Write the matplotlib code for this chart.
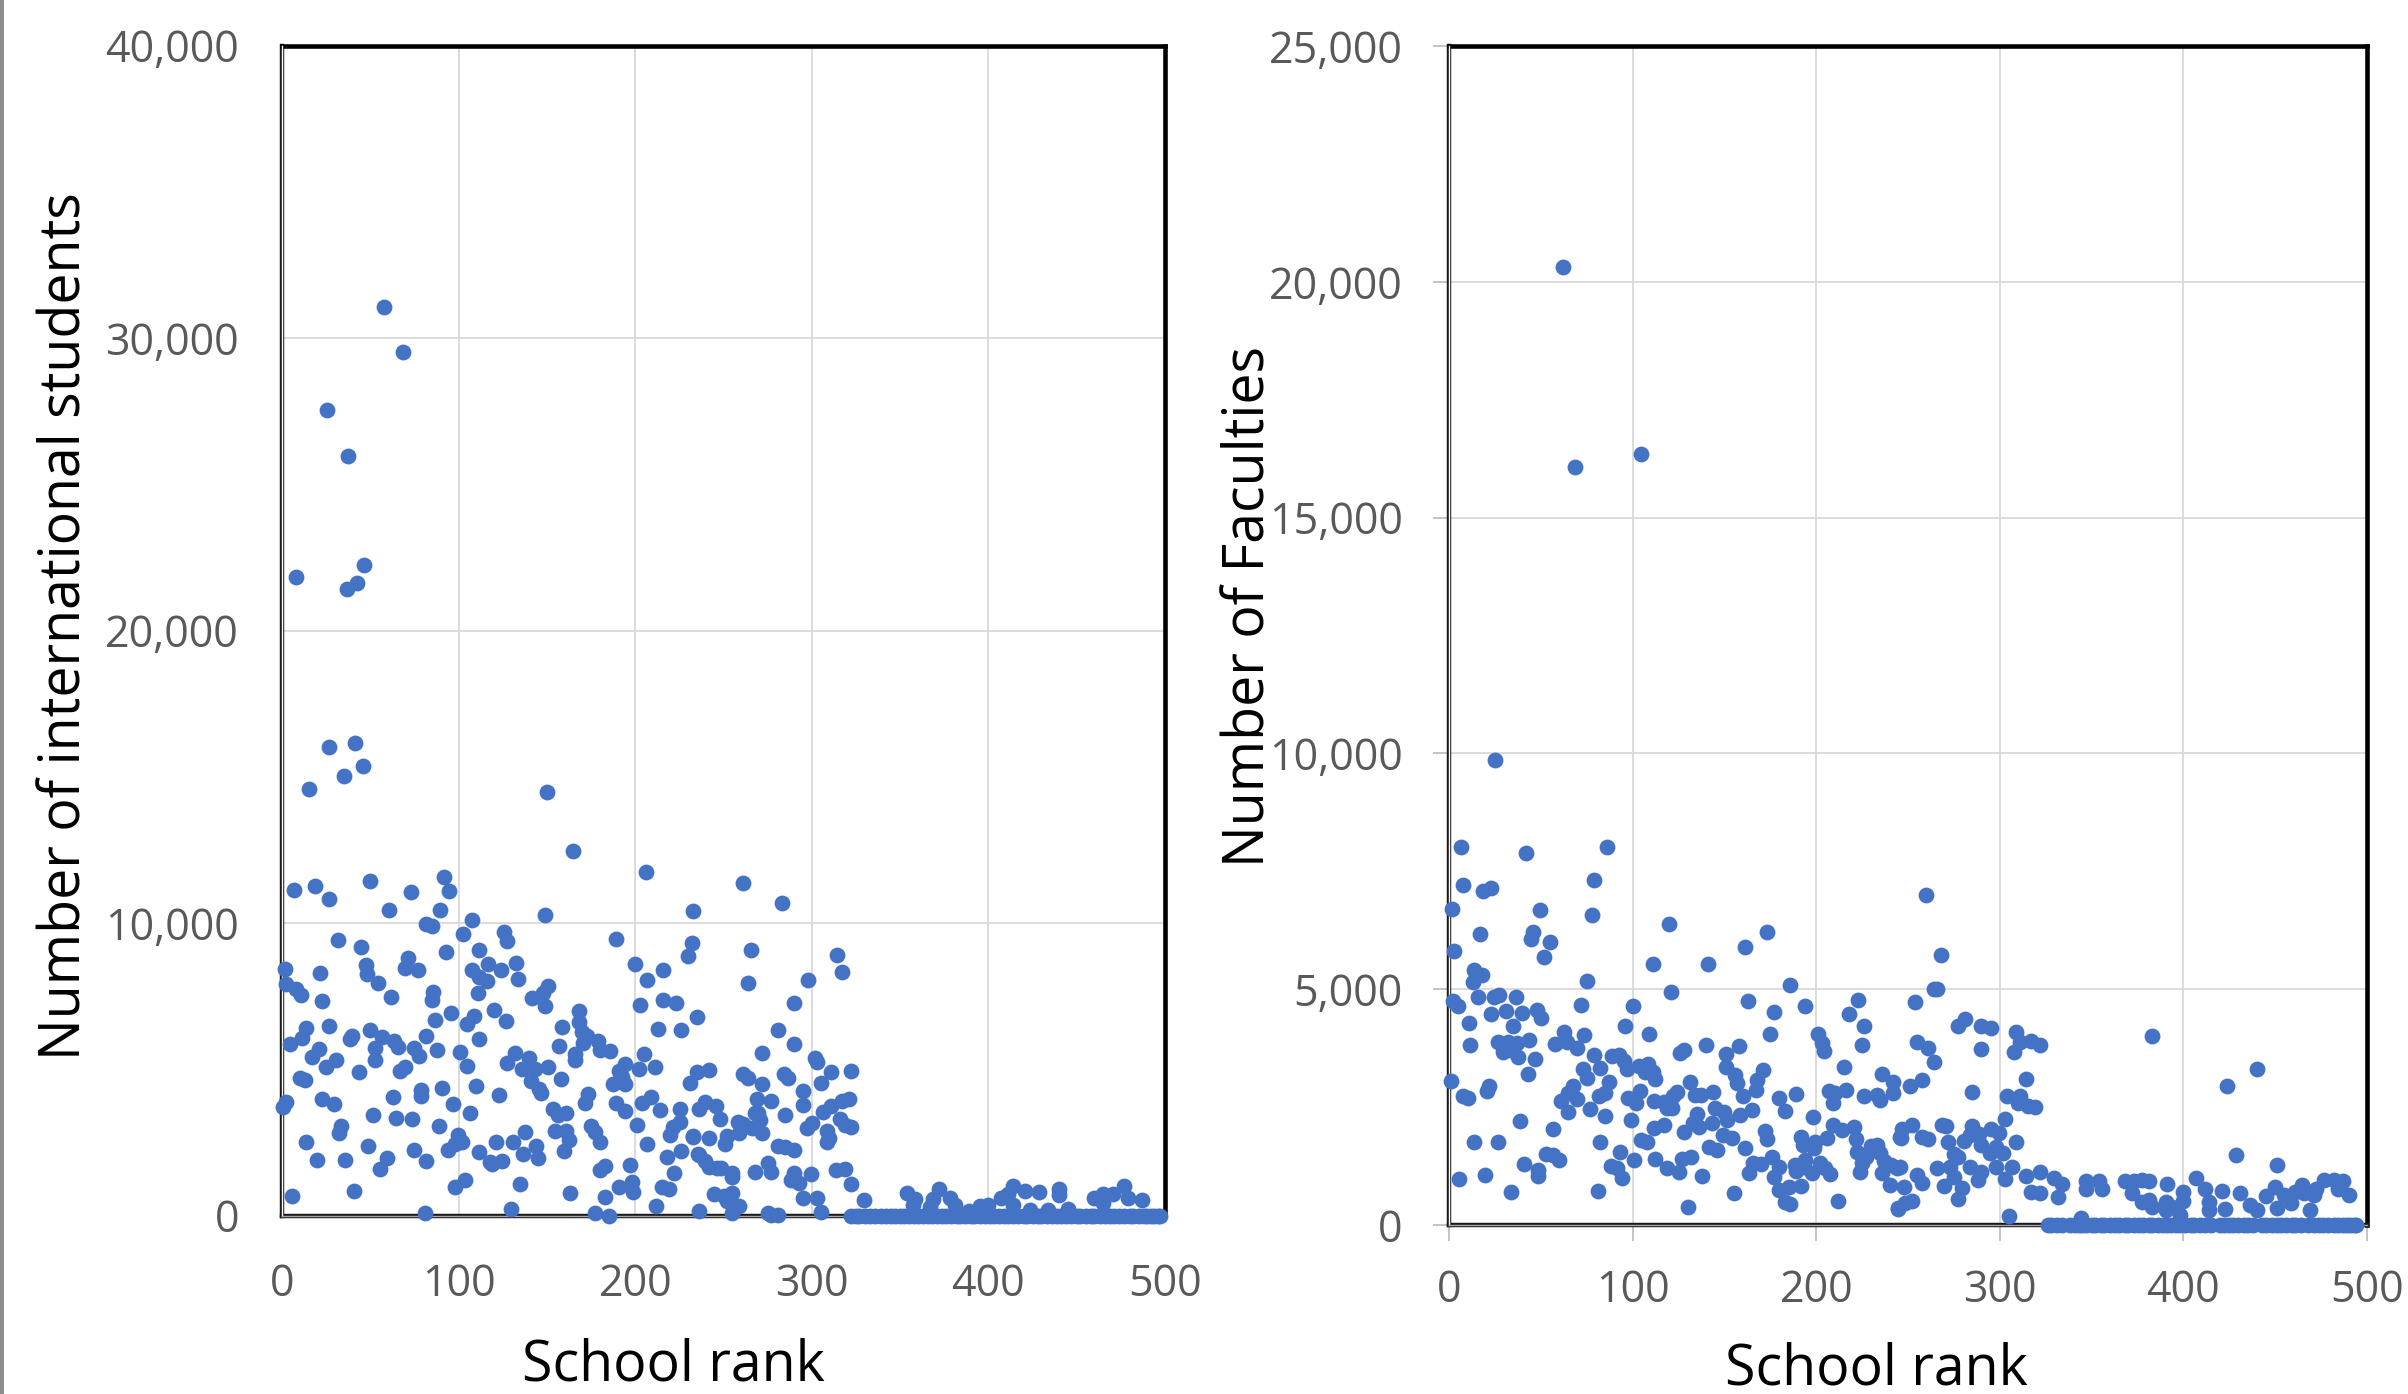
import matplotlib
matplotlib.use('Agg')
import matplotlib.pyplot as plt
from matplotlib.patches import Rectangle
from matplotlib.ticker import FuncFormatter

plt.rcParams['font.family'] = ['Open Sans', 'DejaVu Sans']

W, H = 2408, 1394
BLUE = '#4472C4'
GRID = '#d9d9d9'
TICK_TEXT = '#595959'
DOT = 130

# left chart
students_rank = [
    57.6, 68.7, 25.5, 37.6, 46.7, 7.8, 42.7, 36.6, 26.5, 41.4,
    45.7, 35.3, 15.2, 150.2, 164.8, 206, 6.6, 18.7, 26.7, 49.7,
    72.8, 91.9, 94.7, 60.7, 89.6, 233, 148.8, 107.8, 81.3, 84.7,
    102.6, 125.7, 127.6, 31.6, 44.6, 189, 111.7, 92.8, 232, 230,
    200, 216, 71.6, 69.4, 76.9, 116.8, 123.8, 132.7, 107.8, 47.8,
    48.4, 54.6, 1.5, 21.5, 2.5, 7.8, 10.6, 22.7, 61.6, 133.8,
    111.7, 116, 206.8, 150.7, 148, 141.6, 148.8, 110.8, 85.6, 84.7,
    216, 222.9, 202.8, 95.8, 119.8, 167.9, 126.8, 86.8, 108.7, 104.7,
    235, 158.8, 167.9, 26.7, 13.6, 11.5, 4.5, 49.7, 56.7, 39.5,
    38.6, 212.9, 225.9, 81.7, 111.7, 169.8, 172.6, 170.7, 179.2, 179.8,
    186, 63.7, 65.8, 52.7, 21, 16.8, 74.7, 77.7, 87.7, 100.8,
    156.9, 204.9, 131.8, 127.6, 139.7, 166, 166, 30.6, 52.7, 24.8,
    104.7, 194, 201.9, 211, 150.8, 135.7, 143.3, 69.6, 66.7, 43.7,
    235, 190.6, 141, 157.8, 10, 12.9, 192.4, 194.3, 187.7, 231,
    109.8, 90.7, 145.6, 146.7, 78.8, 78.8, 122.9, 173, 171.6, 208.9,
    204, 189, 194, 62.6, 22.7, 29.7, 2.5, 0.4, 96.8, 153.7,
    156.1, 160.9, 106.4, 213.8, 225.1, 236, 51.8, 64.6, 73.7, 225.5,
    221.4, 219.8, 201, 174.9, 177.3, 179.8, 88.8, 154.6, 160.9, 162.6,
    159.9, 137.8, 33.6, 32.5, 99.8, 101.9, 97.9, 93.8, 233, 13.6,
    121, 130.8, 143.7, 48.6, 206.8, 74.7, 111.7, 136.7, 144.8, 225.9,
    218, 236, 59.7, 19.7, 35.5, 81.7, 124.8, 117.8, 118.9, 55.6,
    183, 179.8, 197, 221.9, 103.6, 97.7, 134.8, 198, 190.9, 199,
    214.9, 219, 5.7, 40.6, 162.8, 183, 211.9, 129.9, 80.7, 177,
    185.4, 236, 261, 283, 265.8, 264, 314, 317, 297.7, 290,
    281, 290, 272, 301.9, 302.8, 322, 310.8, 305, 242, 261,
    264, 284, 286.8, 272, 295, 295, 321, 317, 310.8, 306.6,
    276.8, 268.9, 268, 269.8, 270.4, 285, 239.6, 246, 248, 300,
    297, 316, 319, 322, 258, 261, 266, 272, 258.5, 252,
    251, 242, 233, 308.5, 309.9, 308.5, 281, 285, 290, 235.8,
    239.6, 242, 246.4, 248.6, 255, 255, 275, 276.8, 268, 290,
    288, 292.5, 299.8, 313.6, 319, 322, 244.7, 250, 254.7, 252,
    258.5, 254.7, 275, 280.6, 277, 295, 303, 305, 329.8, 353.8,
    358.5, 357.5, 372, 368.9, 378, 381, 367, 395, 400, 388.8,
    413.8, 407, 411, 420.8, 414, 428.9, 439.8, 439.8, 423.6, 434,
    445, 460, 465, 470.8, 476.8, 479, 486.8, 465,
]
students = [
    31050, 29510, 27550, 25950, 22240, 21830, 21620, 21420, 16010, 16170,
    15380, 15010, 14590, 14490, 12470, 11730, 11140, 11260, 10820, 11440,
    11060, 11570, 11090, 10450, 10450, 10420, 10260, 10100, 9980, 9900,
    9630, 9680, 9370, 9420, 9170, 9470, 9090, 9000, 9300, 8870,
    8610, 8410, 8790, 8460, 8390, 8600, 8380, 8630, 8410, 8570,
    8260, 7960, 8430, 8300, 7930, 7750, 7540, 7330, 7470, 8080,
    8160, 8010, 8060, 7840, 7610, 7440, 7170, 7610, 7650, 7360,
    7380, 7280, 7210, 6930, 7020, 6980, 6650, 6680, 6810, 6530,
    6770, 6450, 6620, 6480, 6410, 6070, 5860, 6350, 6090, 6130,
    6030, 6390, 6330, 6150, 6050, 6270, 6130, 5910, 5970, 5650,
    5620, 5970, 5750, 5740, 5680, 5410, 5740, 5450, 5670, 5580,
    5790, 5530, 5550, 5230, 5370, 5520, 5300, 5310, 5310, 5060,
    5100, 5170, 5010, 5080, 5090, 5020, 5020, 5060, 4940, 4910,
    4910, 4940, 4600, 4650, 4690, 4620, 4740, 4510, 4490, 4520,
    4440, 4360, 4330, 4180, 4280, 4100, 4130, 4170, 3860, 4060,
    3860, 3860, 3570, 4040, 3970, 3820, 3880, 3710, 3810, 3650,
    3420, 3500, 3510, 3610, 3650, 3650, 3430, 3320, 3310, 3190,
    3020, 2760, 3080, 3060, 2850, 2510, 3050, 2890, 2880, 2570,
    2220, 2860, 3050, 2830, 2740, 2520, 2450, 2250, 2680, 2520,
    2500, 2510, 2390, 2380, 2450, 2250, 2180, 2110, 1960, 2190,
    2000, 2080, 1980, 1890, 1890, 1860, 1860, 1820, 1770, 1600,
    1690, 1540, 1730, 1470, 1230, 990, 1060, 1160, 970, 800,
    960, 920, 670, 840, 760, 630, 330, 220, 80, 80,
    0, 140, 11380, 10700, 9080, 7960, 8900, 8310, 8050, 7250,
    6330, 5880, 5570, 5400, 5240, 4950, 4900, 4530, 4970, 4840,
    4710, 4840, 4690, 4490, 4270, 3790, 4000, 3900, 3760, 3550,
    3900, 4000, 3520, 3520, 3260, 3430, 3870, 3730, 3290, 3160,
    2990, 3290, 3100, 3030, 3200, 3130, 2980, 2810, 2810, 2720,
    2450, 2650, 2710, 2900, 2650, 2500, 2370, 2330, 2250, 2100,
    1880, 1670, 1640, 1630, 1450, 1300, 1800, 1480, 1480, 1450,
    1220, 1100, 1410, 1540, 1590, 1060, 725, 650, 760, 480,
    320, 90, 90, 25, 25, 610, 610, 130, 530, 780,
    580, 375, 900, 580, 610, 375, 285, 320, 350, 155,
    1000, 610, 740, 840, 375, 800, 905, 700, 190, 190,
    220, 610, 740, 740, 1000, 610, 530, 415,
]
# the run of schools sitting on zero
students_zero_rank = [
    322, 325, 327, 330, 333, 336, 339, 342, 345, 347, 350, 352, 355, 358, 360,
    363, 366, 368, 371, 374, 376, 379, 382, 384, 387, 390, 392, 395, 398, 401,
    403, 406, 409, 411, 414, 417, 420, 422, 425, 428, 430, 433, 436, 439, 441,
    444, 447, 450, 452, 455, 458, 460, 463, 466, 469, 471, 474, 477, 480, 482,
    485, 488, 490, 492, 494, 496, 497,
]

# right chart
faculty_rank = [
    61.9, 68.6, 104.5, 25, 6.7, 41.8, 86, 7.8, 18.7, 22.7,
    78.9, 1.6, 49.8, 77.8, 120, 173, 46, 44.9, 54.9, 16.7,
    2.7, 161, 52, 110.9, 140.9, 13.6, 17.8, 12.9, 74.9, 186,
    121, 27.3, 24.5, 15.8, 36.7, 2.4, 5, 223, 163, 100,
    194, 71.8, 48, 50, 30.9, 22.7, 40, 177, 218, 10.7,
    34.9, 96, 226, 62.7, 73.8, 108.9, 175, 201, 203, 204,
    57.6, 64, 69.8, 43.8, 26.9, 32, 36.9, 11.6, 225, 140,
    158, 127.8, 125.6, 151, 29.6, 33.6, 37.8, 46.9, 79, 88.9,
    92.4, 95.5, 96.9, 103.3, 108.2, 106.9, 111, 112.4, 82, 72.9,
    75, 42.9, 151, 156, 157, 171, 215, 167.8, 167, 160,
    86.9, 131, 236, 242, 0.9, 21.8, 20.9, 67.8, 65, 69.6,
    60.9, 64.9, 103.8, 124, 122, 144, 134, 137.5, 189, 179.6,
    183, 207, 210.5, 216.5, 209, 226, 233, 235, 242, 85,
    81.8, 7.8, 10.4, 97.5, 102, 111.8, 116.9, 118.7, 121.5, 76.9,
    84.9, 98.9, 145, 149.6, 135, 165, 158.7, 151.4, 143, 133,
    136, 198, 38.9, 56.7, 111.8, 117, 128, 209, 214, 220.5,
    221.5, 172, 173, 149, 154, 191.5, 199.6, 193, 199, 206,
    104.5, 108, 82, 13.6, 26.7, 141.8, 146, 161, 246, 229.6,
    233, 222, 227, 235, 237, 92.9, 52.7, 56.4, 60, 176,
    180, 165.6, 170, 163.3, 176.8, 188.4, 189, 193.8, 193.6, 202,
    197.5, 205, 207.5, 225, 224, 236, 240.5, 244, 240, 40.9,
    48.7, 48.7, 88, 91.5, 94, 101, 112, 118.7, 126.9, 132,
    125, 138, 5.6, 19.8, 33.8, 80.9, 155, 180, 185, 191.5,
    183, 186, 130, 212, 244.5, 260, 268, 264, 266, 253.8,
    277, 280.8, 289.7, 295, 309, 255, 261, 290, 264, 316.9,
    322, 310.8, 307.7, 314, 257.8, 250.9, 284.8, 304, 311, 310,
    315.4, 319, 303, 252, 247, 245.7, 268.6, 270.8, 284.6, 295,
    299.8, 257.7, 261, 272, 280.6, 283.9, 288.8, 289.7, 309, 298,
    294.9, 302, 275, 277, 245.7, 273, 266, 283.9, 290, 298,
    306.8, 302.7, 288, 275, 254.9, 257.7, 248, 269.6, 279.6, 277,
    252, 244.8, 248.5, 304.8, 321.8, 314, 329.7, 334, 331.9, 316.9,
    322, 347, 353.9, 347, 355.7, 344, 368, 373, 377.7, 381.4,
    372, 377.7, 381.4, 382.9, 383, 423.7, 439.9, 428.9, 450.9, 391,
    399.7, 399.7, 390.6, 394, 390.6, 398.4, 407, 411.8, 414, 414,
    421, 422.6, 430.9, 436.4, 440, 445, 449.8, 451, 454.7, 458.8,
    461, 464.8, 465.7, 471, 472, 468.8, 476.7, 482, 487, 484,
    490,
]
faculties = [
    20310, 16080, 16340, 9860, 8010, 7890, 8010, 7200, 7090, 7140,
    7310, 6710, 6670, 6580, 6390, 6220, 6220, 6070, 6000, 6180,
    5800, 5900, 5680, 5540, 5540, 5410, 5300, 5150, 5170, 5080,
    4950, 4880, 4840, 4830, 4830, 4740, 4640, 4780, 4740, 4640,
    4640, 4670, 4550, 4380, 4530, 4470, 4490, 4520, 4470, 4280,
    4210, 4210, 4210, 4090, 4020, 4050, 4040, 4040, 3860, 3700,
    3840, 3890, 3760, 3920, 3870, 3870, 3860, 3810, 3820, 3820,
    3790, 3720, 3640, 3630, 3660, 3720, 3570, 3510, 3610, 3590,
    3600, 3470, 3310, 3380, 3420, 3240, 3240, 3100, 3320, 3310,
    3120, 3210, 3350, 3190, 3010, 3290, 3360, 3080, 2870, 2730,
    3040, 3040, 3210, 3040, 3060, 2950, 2850, 2940, 2800, 2670,
    2620, 2390, 2850, 2830, 2730, 2820, 2760, 2760, 2780, 2690,
    2410, 2850, 2800, 2860, 2580, 2730, 2760, 2650, 2800, 2800,
    2740, 2730, 2700, 2700, 2580, 2630, 2600, 2480, 2480, 2460,
    2320, 2220, 2480, 2390, 2350, 2430, 2340, 2220, 2170, 2170,
    2070, 2290, 2200, 2040, 2060, 2110, 1970, 2120, 2020, 2070,
    1820, 2000, 1830, 1900, 1840, 1860, 1770, 1690, 1630, 1850,
    1810, 1760, 1770, 1770, 1760, 1660, 1590, 1640, 1840, 1680,
    1700, 1540, 1450, 1520, 1350, 1540, 1510, 1490, 1380, 1450,
    1240, 1310, 1290, 1100, 1010, 1270, 1150, 1380, 1240, 1310,
    1110, 1200, 1080, 1310, 1130, 1100, 1270, 1200, 850, 1300,
    1170, 1040, 1250, 1200, 990, 1380, 1390, 1200, 1390, 1440,
    1130, 1030, 970, 1050, 690, 730, 670, 740, 810, 830,
    480, 440, 380, 500, 330, 6990, 5720, 5010, 5010, 4730,
    4220, 4360, 4220, 4180, 4090, 3870, 3760, 3730, 3450, 3910,
    3820, 3870, 3660, 3090, 3070, 2950, 2820, 2730, 2730, 2580,
    2530, 2500, 2250, 2110, 2040, 1860, 2120, 2090, 2100, 2040,
    1950, 1860, 1820, 1760, 1790, 1900, 1930, 1700, 1770, 1650,
    1530, 1530, 1510, 1440, 1240, 1230, 1200, 1230, 1120, 1220,
    1230, 980, 950, 1020, 1070, 890, 810, 820, 790, 560,
    510, 370, 460, 200, 1120, 1030, 1000, 870, 600, 690,
    670, 940, 930, 760, 770, 150, 935, 935, 950, 935,
    670, 490, 530, 390, 4010, 2950, 3300, 1490, 1280, 860,
    690, 510, 490, 390, 320, 210, 1000, 760, 480, 320,
    720, 330, 670, 420, 320, 610, 810, 350, 630, 460,
    700, 840, 670, 630, 770, 320, 950, 960, 935, 770,
    630,
]
faculty_zero_rank = [
    326, 328, 331, 334, 338, 341, 343, 345, 347, 350, 352, 355, 357, 360, 363,
    365, 368, 370, 373, 376, 378, 381, 383, 386, 389, 391, 393, 396, 398, 401,
    404, 406, 409, 412, 415, 420, 422, 425, 427, 430, 433, 435, 438, 443, 445,
    448, 451, 453, 456, 459, 461, 464, 468, 471, 474, 476, 479, 482, 484, 487,
    489, 491, 493, 494,
]

x_ticks = [0, 100, 200, 300, 400, 500]
students_ticks = [0, 10000, 20000, 30000, 40000]
faculties_ticks = [0, 5000, 10000, 15000, 20000, 25000]


def make_axes(left, top, right, bottom):
    return fig.add_axes([left / W, 1 - bottom / H, (right - left) / W, (bottom - top) / H])


def style_axes(ax, ymax, yticks, tick_len, xpad, ypad):
    ax.set_xlim(0, 500)
    ax.set_ylim(0, ymax)
    ax.set_xticks(x_ticks)
    ax.set_yticks(yticks)
    ax.yaxis.set_major_formatter(FuncFormatter(lambda v, p: f'{int(v):,}'))
    ax.grid(True, color=GRID, lw=1.3)
    ax.set_axisbelow(True)
    ax.tick_params(axis='x', length=tick_len, width=1.3, color='#bfbfbf', pad=xpad,
                   labelsize=31, labelcolor=TICK_TEXT)
    ax.tick_params(axis='y', length=tick_len, width=1.3, color='#bfbfbf', pad=ypad,
                   labelsize=31, labelcolor=TICK_TEXT)
    for s in ['top', 'right']:
        ax.spines[s].set_color('black')
        ax.spines[s].set_linewidth(3.3)
    for s in ['left', 'bottom']:
        ax.spines[s].set_color('#1a1a1a')
        ax.spines[s].set_linewidth(3.2)
    # the left and bottom frame lines are doubled in the original
    ax.plot([0, 0], [0, 1], transform=ax.transAxes, color='white', lw=1.0, clip_on=False, zorder=2.6)
    ax.plot([0, 1], [0, 0], transform=ax.transAxes, color='#a6a6a6', lw=1.0, clip_on=False, zorder=2.6)


fig = plt.figure(figsize=(W / 100, H / 100), dpi=100, facecolor='white')
fig.add_artist(Rectangle((0, 0), 3.5 / W, 1, transform=fig.transFigure, color='#8c8c8c', lw=0))

ax1 = make_axes(282, 45.5, 1165, 1215.5)
style_axes(ax1, 40000, students_ticks, 0, 34, 31)
ax1.scatter(students_rank, students, s=DOT, color=BLUE, linewidths=0, clip_on=False, zorder=3)
ax1.scatter(students_zero_rank, [0] * len(students_zero_rank), s=DOT, color=BLUE, linewidths=0,
            clip_on=False, zorder=3)
ax1.set_xlabel('School rank', fontsize=40)
ax1.set_ylabel('Number of international students', fontsize=40)
ax1.xaxis.set_label_coords(0.443, -0.129)
ax1.yaxis.set_label_coords(-0.245, 0.5035)
ax1.xaxis.label.set_va('center')
ax1.yaxis.label.set_va('center')

ax2 = make_axes(1449, 46, 2367, 1225)
style_axes(ax2, 25000, faculties_ticks, 11.5, 20, 22)
ax2.scatter(faculty_rank, faculties, s=DOT, color=BLUE, linewidths=0, clip_on=False, zorder=3)
ax2.scatter(faculty_zero_rank, [0] * len(faculty_zero_rank), s=DOT, color=BLUE, linewidths=0,
            clip_on=False, zorder=3)
ax2.set_xlabel('School rank', fontsize=40)
ax2.set_ylabel('Number of Faculties', fontsize=40)
ax2.xaxis.set_label_coords(0.466, -0.123)
ax2.yaxis.set_label_coords(-0.2165, 0.525)
ax2.xaxis.label.set_va('center')
ax2.yaxis.label.set_va('center')

plt.savefig('out.png', dpi=100)
